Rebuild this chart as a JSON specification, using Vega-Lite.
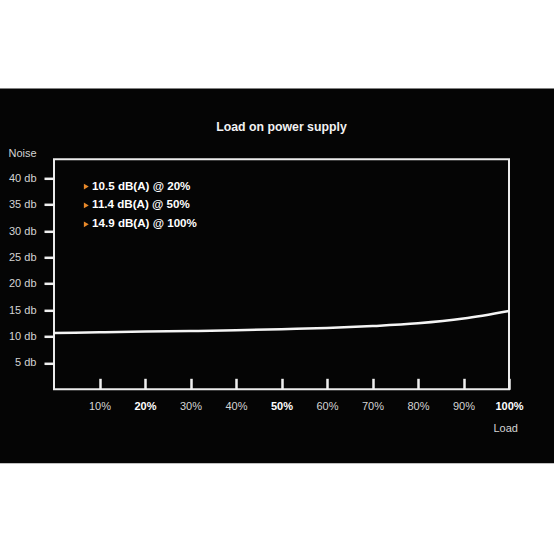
{
  "$schema": "https://vega.github.io/schema/vega-lite/v6.json",
  "autosize": {"type": "none"},
  "width": 455,
  "height": 230,
  "padding": {"left": 54, "top": 159.3, "right": 45, "bottom": 164.7},
  "background": "white",
  "config": {
    "font": "Liberation Sans",
    "view": {"stroke": null},
    "axis": {"grid": false, "domain": false, "labelOverlap": false}
  },
  "title": {
    "text": "Load on power supply",
    "fontSize": 12.3,
    "fontWeight": "bold",
    "color": "#f2f2f2",
    "anchor": "middle",
    "frame": "group",
    "baseline": "alphabetic",
    "offset": -54.5
  },
  "datasets": {
    "noise": [
      {"load": 0, "db": 10.66},
      {"load": 10, "db": 10.8},
      {"load": 20, "db": 10.95},
      {"load": 30, "db": 11.05},
      {"load": 40, "db": 11.2},
      {"load": 50, "db": 11.4},
      {"load": 60, "db": 11.62},
      {"load": 70, "db": 11.98},
      {"load": 80, "db": 12.5},
      {"load": 90, "db": 13.4},
      {"load": 100, "db": 14.84}
    ],
    "notes": [
      {"note": "10.5 dB(A) @ 20%"},
      {"note": "11.4 dB(A) @ 50%"},
      {"note": "14.9 dB(A) @ 100%"}
    ],
    "one": [{}]
  },
  "layer": [
    {
      "data": {"name": "one"},
      "mark": {"type": "rect", "fill": "#050505", "clip": false},
      "encoding": {
        "x": {"datum": -12, "type": "quantitative", "scale": {"domain": [0, 100], "nice": false, "zero": false}},
        "x2": {"datum": 111},
        "y": {"datum": 57, "type": "quantitative", "scale": {"domain": [0, 43.6], "nice": false, "zero": false}},
        "y2": {"datum": -14}
      }
    },
    {
      "data": {"name": "one"},
      "mark": {"type": "rect", "fill": null, "stroke": "#ececec", "strokeWidth": 2},
      "encoding": {
        "x": {"datum": 0, "type": "quantitative"},
        "x2": {"datum": 100},
        "y": {"datum": 0, "type": "quantitative"},
        "y2": {"datum": 43.6}
      }
    },
    {
      "data": {"name": "notes"},
      "mark": {"type": "point", "shape": "triangle-right", "filled": true, "opacity": 0},
      "encoding": {
        "color": {
          "field": "note",
          "type": "nominal",
          "scale": {"range": ["#e8892a", "#e8892a", "#e8892a"]},
          "legend": {
            "orient": "none",
            "legendX": 26.5,
            "legendY": 21.5,
            "title": null,
            "padding": 0,
            "zindex": 2,
            "symbolType": "triangle-right",
            "symbolSize": 32,
            "symbolOpacity": 1,
            "symbolStrokeWidth": 0,
            "labelFont": "Liberation Sans",
            "labelFontSize": 11.6,
            "labelFontWeight": "bold",
            "labelColor": "#ffffff",
            "labelOffset": 0,
            "rowPadding": 5.85,
            "labelLimit": 300
          }
        }
      }
    },
    {
      "data": {"name": "noise"},
      "mark": {"type": "line", "color": "#f5f5f5", "strokeWidth": 2.5, "interpolate": "monotone"},
      "encoding": {
        "x": {
          "field": "load",
          "type": "quantitative",
          "axis": {
            "zindex": 2,
            "values": [10, 20, 30, 40, 50, 60, 70, 80, 90, 100],
            "tickCount": 12,
            "labelExpr": "datum.value + '%'",
            "tickSize": -11,
            "tickWidth": 2.5,
            "tickColor": "#f0f0f0",
            "labelPadding": 27.7,
            "labelBaseline": "middle",
            "labelFontSize": 11,
            "labelOverlap": false,
            "labelColor": {"condition": {"test": "datum.value == 20 || datum.value == 50 || datum.value == 100", "value": "#ffffff"}, "value": "#d4d4d4"},
            "labelFontWeight": {"condition": {"test": "datum.value == 20 || datum.value == 50 || datum.value == 100", "value": "bold"}, "value": "normal"},
            "labelFlush": false,
            "title": "Load",
            "titleFontSize": 11,
            "titleFontWeight": "normal",
            "titleColor": "#d4d4d4",
            "titleAlign": "left",
            "titleBaseline": "alphabetic",
            "titleX": 439,
            "titleY": 42.2
          }
        },
        "y": {
          "field": "db",
          "type": "quantitative",
          "axis": {
            "zindex": 2,
            "values": [5, 10, 15, 20, 25, 30, 35, 40],
            "tickCount": 10,
            "labelExpr": "datum.value + ' db'",
            "tickSize": 10,
            "tickWidth": 2.5,
            "tickColor": "#f0f0f0",
            "labelPadding": 8,
            "labelFontSize": 11,
            "labelOverlap": false,
            "labelColor": "#d4d4d4",
            "labelFlush": false,
            "title": "Noise",
            "titleAngle": 0,
            "titleFontSize": 11,
            "titleFontWeight": "normal",
            "titleColor": "#d4d4d4",
            "titleAlign": "left",
            "titleBaseline": "alphabetic",
            "titleX": -46,
            "titleY": -2.8
          }
        }
      }
    }
  ]
}
